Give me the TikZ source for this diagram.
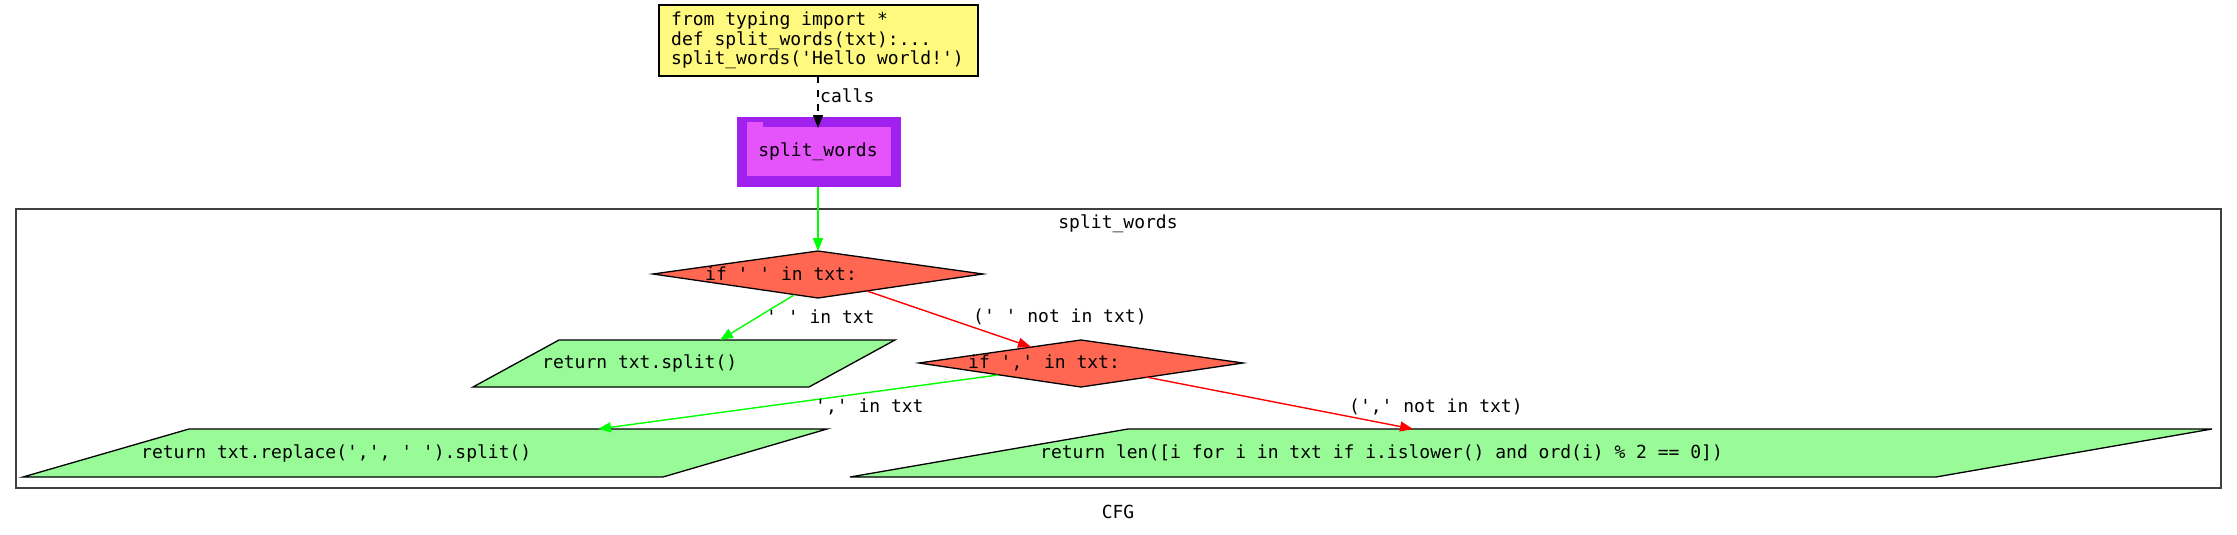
\documentclass[tikz,border=0pt]{standalone}
\usepackage{fontspec}
\setmonofont{DejaVu Sans Mono}
\usetikzlibrary{arrows.meta}
\definecolor{yel}{HTML}{FFF97F}
\definecolor{purp}{HTML}{A020EE}
\definecolor{pinkf}{HTML}{E553FA}
\definecolor{tom}{HTML}{FF6752}
\definecolor{pgreen}{HTML}{98FB98}
\definecolor{lime}{HTML}{00FF00}
\definecolor{redl}{HTML}{FF0000}
\begin{document}
\begin{tikzpicture}[x=1pt,y=-1pt,
  txt/.style={font=\ttfamily\fontsize{18}{19.5}\selectfont, inner sep=0pt, align=left},
  shp/.style={draw=black, line width=1.3pt, line join=miter},
  edge/.style={line width=1.4pt, -{Triangle[length=13pt,width=10pt]}},
  lbl/.style={txt, anchor=west}]
\useasboundingbox (0,0) rectangle (2237,535);
% top code box
\draw[shp, fill=yel] (659,5) rectangle (978,76);
\node[txt, anchor=west] (code) at (671,40.5) {from typing import *\\def split\_words(txt):...\\split\_words('Hello world!')};
% folder node
\fill[purp] (737,117) rectangle (901,187);
\fill[pinkf] (747,127) rectangle (891,176);
\fill[pinkf] (747,122) rectangle (763,127);
\node[txt] (fn) at (818,152) {split\_words};
% cluster
\draw[line width=1.3pt, draw=black!75] (16,209) rectangle (2221,488);
\node[txt] (cl) at (1118,224) {split\_words};
\node[txt] (cfg) at (1118,512) {CFG};
% diamond 1
\draw[shp, fill=tom] (653,274) -- (818,251) -- (983,274) -- (818,298) -- cycle;
\node[lbl] (d1) at (705,274) {if ' ' in txt:};
% diamond 2
\draw[shp, fill=tom] (919,363) -- (1081,340) -- (1243,363) -- (1081,387) -- cycle;
\node[lbl] (d2) at (968,363) {if ',' in txt:};
% parallelogram 1
\draw[shp, fill=pgreen] (559,340) -- (895,340) -- (809,387) -- (473,387) -- cycle;
\node[lbl] (p1) at (542,363) {return txt.split()};
% parallelogram 2
\draw[shp, fill=pgreen] (189,429) -- (827,429) -- (663,477) -- (23,477) -- cycle;
\node[lbl] (p2) at (141,453) {return txt.replace(',', ' ').split()};
% parallelogram 3
\draw[shp, fill=pgreen] (1128,429) -- (2212,429) -- (1936,477) -- (850,477) -- cycle;
\node[lbl] (p3) at (1040,453) {return len([i for i in txt if i.islower() and ord(i) \% 2 == 0])};
% edge endpoints
\coordinate (codeS) at (818,76);
\coordinate (fnN) at (818,128);
\coordinate (fnS) at (818,187);
\coordinate (d1N) at (818,251);
\coordinate (d1SW) at (794,295);
\coordinate (p1N) at (720,340);
\coordinate (d1SE) at (867,291);
\coordinate (d2NW) at (1031,347);
\coordinate (d2SW) at (998,375);
\coordinate (p2N) at (598,429);
\coordinate (d2SE) at (1146,377);
\coordinate (p3N) at (1413,429);
% edges
\draw[edge, black, dash pattern=on 7pt off 7pt] (codeS) -- (fnN);
\node[lbl] (callsl) at (820,96) {calls};
\draw[edge, lime] (fnS) -- (d1N);
\draw[edge, lime] (d1SW) -- (p1N);
\draw[edge, redl] (d1SE) -- (d2NW);
\draw[edge, lime] (d2SW) -- (p2N);
\draw[edge, redl] (d2SE) -- (p3N);
% edge labels
\node[lbl] (l1) at (766,317) {' ' in txt};
\node[lbl] (l2) at (973,317) {(' ' not in txt)};
\node[lbl] (l3) at (815,407) {',' in txt};
\node[lbl] (l4) at (1349,407) {(',' not in txt)};
\end{tikzpicture}
\end{document}
